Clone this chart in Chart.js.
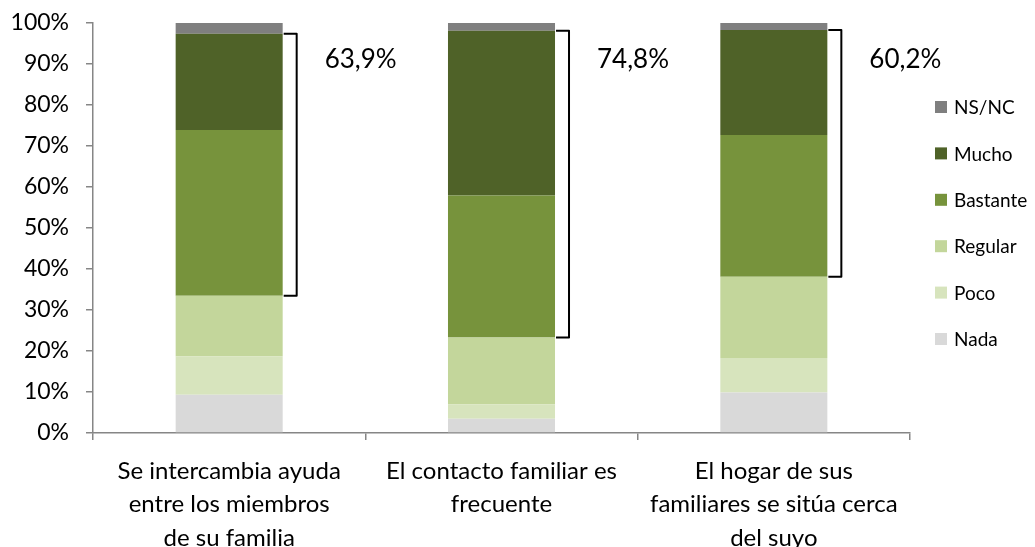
<!DOCTYPE html>
<html>
<head>
<meta charset="utf-8">
<script src="https://cdn.jsdelivr.net/npm/chart.js@4"></script>
<style>
  html, body { margin: 0; padding: 0; background: #fff; }
  #wrap { width: 1035px; height: 547px; }
</style>
</head>
<body>
<div id="wrap"><canvas id="c" width="1035" height="547"></canvas></div>
<script>
const categories = [
  ['Se intercambia ayuda', 'entre los miembros', 'de su familia'],
  ['El contacto familiar es', 'frecuente'],
  ['El hogar de sus', 'familiares se sitúa cerca', 'del suyo']
];
const seriesNames = ['Nada', 'Poco', 'Regular', 'Bastante', 'Mucho', 'NS/NC'];
const nada     = [9.3, 3.5, 9.9];
const poco     = [9.4, 3.5, 8.4];
const regular  = [14.8, 16.3, 19.8];
const bastante = [40.4, 34.6, 34.6];
const mucho    = [23.5, 40.2, 25.6];
const nsnc     = [2.6, 1.9, 1.7];
const bracketLabels = ['63,9%', '74,8%', '60,2%'];
const yTicks = [0, 10, 20, 30, 40, 50, 60, 70, 80, 90, 100];

const colors = ['#D9D9D9', '#D7E4BD', '#C3D69B', '#77933C', '#4F6228', '#7F7F7F'];
const values = [nada, poco, regular, bastante, mucho, nsnc];
const FONT = 'Lato';

const datasets = seriesNames.map((n, i) => ({
  label: n,
  data: values[i],
  backgroundColor: colors[i],
  borderWidth: 0,
  barPercentage: 0.393,
  categoryPercentage: 1
}));

const bracketPlugin = {
  id: 'brackets',
  afterDatasetsDraw(chart) {
    const ctx = chart.ctx;
    const y = chart.scales.y;
    const meta = chart.getDatasetMeta(4);
    ctx.save();
    ctx.strokeStyle = '#000';
    ctx.lineWidth = 2;
    ctx.lineJoin = 'round';
    meta.data.forEach((bar, i) => {
      const right = bar.x + bar.width / 2;
      const low = nada[i] + poco[i] + regular[i];
      const high = low + bastante[i] + mucho[i];
      const yTop = y.getPixelForValue(high);
      const yBot = y.getPixelForValue(low);
      ctx.beginPath();
      ctx.moveTo(right + 1, yTop);
      ctx.lineTo(right + 14, yTop);
      ctx.lineTo(right + 14, yBot);
      ctx.lineTo(right + 1, yBot);
      ctx.stroke();
      ctx.fillStyle = '#000';
      ctx.font = '26px ' + FONT;
      ctx.textAlign = 'left';
      ctx.textBaseline = 'middle';
      ctx.fillText(bracketLabels[i], right + 42, 60);
    });
    ctx.restore();
  }
};

const legendPlugin = {
  id: 'customLegend',
  afterDraw(chart) {
    const ctx = chart.ctx;
    ctx.save();
    ctx.font = '19px ' + FONT;
    ctx.textAlign = 'left';
    ctx.textBaseline = 'middle';
    const n = chart.data.datasets.length;
    for (let k = 0; k < n; k++) {
      const ds = chart.data.datasets[n - 1 - k];
      const cy = 107 + k * 46.4;
      ctx.fillStyle = ds.backgroundColor;
      ctx.fillRect(935, cy - 6, 12, 12);
      ctx.fillStyle = '#000';
      ctx.fillText(ds.label, 954, cy + 1);
    }
    ctx.restore();
  }
};

new Chart(document.getElementById('c'), {
  type: 'bar',
  data: { labels: categories, datasets },
  options: {
    responsive: false,
    animation: false,
    events: [],
    layout: { padding: { top: 23, right: 125, left: 0, bottom: 0 } },
    plugins: { legend: { display: false }, tooltip: { enabled: false } },
    scales: {
      x: {
        stacked: true,
        grid: { display: true, offset: true, drawOnChartArea: false, drawTicks: true, tickLength: 7, color: '#868686', lineWidth: 1.5 },
        border: { color: '#868686', width: 1.5 },
        ticks: { color: '#000', font: { family: FONT, size: 24, lineHeight: 1.4 }, padding: 14, maxRotation: 0, autoSkip: false },
        afterFit(s) { s.height = 114; s.paddingTop = 0; s.paddingLeft = 0; s.paddingRight = 0; }
      },
      y: {
        stacked: true,
        min: 0, max: 100,
        afterBuildTicks(s) { s.ticks = yTicks.map(v => ({ value: v })); },
        grid: { display: true, drawOnChartArea: false, drawTicks: true, tickLength: 7, color: '#868686', lineWidth: 1.5 },
        border: { color: '#868686', width: 1.5 },
        ticks: { color: '#000', font: { family: FONT, size: 23 }, padding: 17, callback: v => v + '%' },
        afterFit(s) { s.width = 93; s.paddingTop = 0; s.paddingBottom = 0; }
      }
    }
  },
  plugins: [bracketPlugin, legendPlugin]
});
</script>
</body>
</html>
